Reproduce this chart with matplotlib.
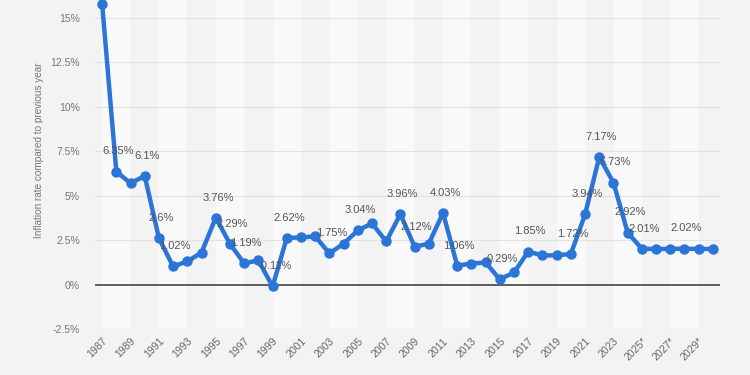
import numpy as np
import matplotlib
matplotlib.use('Agg')
import matplotlib.pyplot as plt

plt.rcParams['font.family'] = ['Liberation Sans', 'DejaVu Sans']

# inflation rate compared to previous year, 1987 - 2030 (2025+ are forecasts)
years = list(range(1987, 2031))
rates = [15.79, 6.35, 5.7, 6.1, 2.6, 1.02, 1.3, 1.8, 3.76, 2.29,
         1.19, 1.36, -0.11, 2.62, 2.65, 2.71, 1.75, 2.3, 3.04, 3.44,
         2.42, 3.96, 2.12, 2.3, 4.03, 1.06, 1.18, 1.24, 0.29, 0.68,
         1.85, 1.64, 1.64, 1.72, 3.94, 7.17, 5.73, 2.92, 2.01, 2.0,
         2.0, 2.02, 2.0, 2.0]
# years that get a value label in the chart
labeled_years = [1988, 1990, 1991, 1992, 1995, 1996, 1997, 1999, 2000, 2003,
                 2005, 2008, 2009, 2011, 2012, 2015, 2017, 2020, 2021, 2022,
                 2023, 2024, 2025, 2028]
tick_years = list(range(1987, 2030, 2))
tick_labels = [str(y) + ('*' if y >= 2025 else '') for y in tick_years]
y_ticks = [-2.5, 0, 2.5, 5, 7.5, 10, 12.5, 15]
y_tick_labels = ['-2.5%', '0%', '2.5%', '5%', '7.5%', '10%', '12.5%', '15%']

BLUE = '#2b74d8'
BG = '#f3f3f3'

fig = plt.figure(figsize=(7.5, 3.75), dpi=100, facecolor=BG)
ax = fig.add_axes([0.1267, 0.1227, 0.8333, 0.8773])
ax.set_facecolor(BG)

# light vertical bands, two years wide
for start in range(1987, 2031, 4):
    ax.axvspan(start, start + 2, color='#f9f9f9', zorder=0, lw=0)

for t in y_ticks:
    if t == 0:
        continue
    ax.axhline(t, color='#e2e2e2', lw=0.8, zorder=1)
ax.axhline(0, color='#333333', lw=1.1, zorder=2)

ax.plot(years, rates, color=BLUE, lw=3.2, marker='o', markersize=6.5,
        zorder=3, clip_on=False, solid_joinstyle='round')

for y, v in zip(years, rates):
    if y in labeled_years:
        ax.annotate('{:g}%'.format(v), (y, v), xytext=(1.5, 14.5),
                    textcoords='offset points', ha='center', va='center',
                    fontsize=8, color='#555555', zorder=4)

ax.set_xlim(1986.5, 2030.5)
ax.set_ylim(-2.5, 16.0)
ax.set_xticks(tick_years)
ax.set_xticklabels(tick_labels, rotation=45, ha='right', rotation_mode='anchor',
                   fontsize=7.5, color='#666666')
ax.set_yticks(y_ticks)
ax.set_yticklabels(y_tick_labels, fontsize=7.5, color='#777777')
ax.tick_params(axis='both', length=0)
ax.tick_params(axis='y', pad=11)
ax.tick_params(axis='x', pad=5)
for s in ax.spines.values():
    s.set_visible(False)

ax.set_ylabel('Inflation rate compared to previous year', fontsize=7.2,
              color='#777777')
ax.yaxis.set_label_coords(-0.082, 0.544)

fig.savefig('out.png', dpi=100, facecolor=BG)
